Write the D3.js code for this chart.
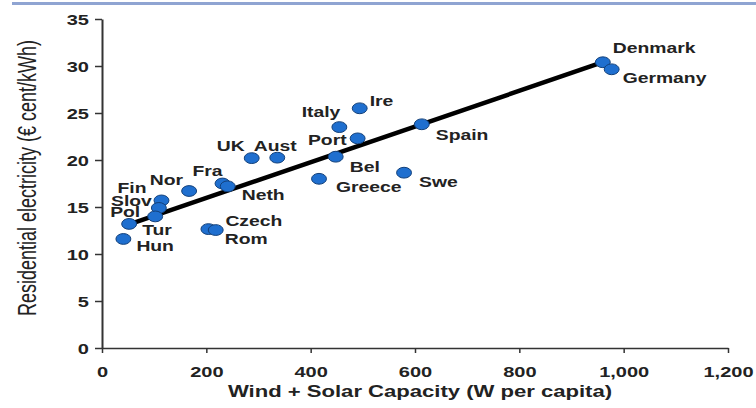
<!DOCTYPE html>
<meta charset="utf-8">
<style>
  body { margin: 0; background: #fff; }
  .axis path, .axis line { stroke: #333; stroke-width: 1.5px; }
  .axis text { font-family: "Liberation Sans", Arial, sans-serif; font-weight: bold; font-size: 14.5px; fill: #222; }
  .label { font-family: "Liberation Sans", Arial, sans-serif; font-weight: bold; font-size: 14px; fill: #222; }
  .dot { fill: #1f6fcf; stroke: #12407a; stroke-width: 1px; }
  .trend { stroke: #000; stroke-width: 4.5px; fill: none; }
</style>
<svg width="756" height="408"></svg>
<script src="https://d3js.org/d3.v7.min.js"></script>
<script>
  // data
  var countries = ["Denmark", "Germany", "Spain", "Ire", "Italy", "Port", "Aust", "UK", "Bel", "Greece",
    "Swe", "Fra", "Neth", "Nor", "Fin", "Slov", "Pol", "Tur", "Hun", "Czech", "Rom"];
  var capacity = [960, 977, 613, 494, 455, 490, 336, 287, 448, 416, 579, 231, 241, 167, 114, 109, 102, 52, 41, 204, 218];
  var price = [30.4, 29.65, 23.8, 25.5, 23.5, 22.3, 20.25, 20.2, 20.35, 18.0, 18.65, 17.5, 17.2, 16.7, 15.7, 14.9, 14.0, 13.2, 11.6, 12.65, 12.55];
  var trendX = [52, 960];
  var trendY = [13.15, 30.4];
  var xTicks = [0, 200, 400, 600, 800, 1000, 1200];
  var yTicks = [0, 5, 10, 15, 20, 25, 30, 35];

  var svg = d3.select("svg");
  var SX = 1.38; // the whole figure is stretched sideways

  var x = d3.scaleLinear().domain([0, 1200]).range([102, 728]);
  var y = d3.scaleLinear().domain([0, 35]).range([348, 19]);

  // top rule
  svg.append("line")
    .attr("x1", 12).attr("x2", 756).attr("y1", 3.5).attr("y2", 3.5)
    .attr("stroke", "#8fa4d2").attr("stroke-width", 3);

  var xAxis = svg.append("g")
    .attr("class", "axis")
    .attr("transform", "translate(0," + y(0) + ")")
    .call(d3.axisBottom(x).tickValues(xTicks).tickFormat(d3.format(",")).tickSize(5).tickSizeOuter(0));
  xAxis.selectAll("text")
    .attr("y", 0).attr("dy", 0)
    .attr("transform", "translate(0,29) scale(" + SX + ",1)");

  var yAxis = svg.append("g")
    .attr("class", "axis")
    .attr("transform", "translate(" + x(0) + ",0)")
    .call(d3.axisLeft(y).tickValues(yTicks).tickSize(7).tickSizeOuter(0));
  yAxis.select(".domain").style("stroke-width", "2px");
  yAxis.selectAll("text")
    .attr("x", 0).attr("dy", "0.36em")
    .attr("transform", "translate(-13,0) scale(" + SX + ",1)");

  // axis titles
  svg.append("text")
    .attr("transform", "translate(420,397) scale(" + SX + ",1)")
    .attr("text-anchor", "middle")
    .style("font-family", "Liberation Sans, Arial, sans-serif")
    .style("font-weight", "bold")
    .style("font-size", "16px")
    .style("fill", "#222")
    .text("Wind + Solar Capacity (W per capita)");

  svg.append("text")
    .attr("transform", "translate(27,178) scale(" + SX + ",1) rotate(-90)")
    .attr("text-anchor", "middle")
    .attr("dy", "0.36em")
    .style("font-family", "Liberation Sans, Arial, sans-serif")
    .style("font-size", "18px")
    .style("fill", "#222")
    .text("Residential electricity (\u20ac cent/kWh)");

  // trend line
  svg.append("line")
    .attr("class", "trend")
    .attr("x1", x(trendX[0])).attr("y1", y(trendY[0]))
    .attr("x2", x(trendX[1])).attr("y2", y(trendY[1]));

  var points = countries.map(function(c, i) { return { name: c, cap: capacity[i], price: price[i] }; });

  svg.append("g").selectAll("ellipse")
    .data(points)
    .enter().append("ellipse")
    .attr("class", "dot")
    .attr("cx", function(d) { return x(d.cap); })
    .attr("cy", function(d) { return y(d.price); })
    .attr("rx", 5.4 * SX)
    .attr("ry", 5.4);

  // label placement: [dx, dy, anchor]
  var place = {
    Denmark: [10, -9, "start"], Germany: [11, 14, "start"], Spain: [14, 16, "start"],
    Ire: [10, -2, "start"], Italy: [1, -10, "end"], Port: [-11, 7, "end"],
    Aust: [-2, -7, "middle"], UK: [-7, -7, "end"], Bel: [14, 15, "start"],
    Greece: [17, 13, "start"], Swe: [15, 14, "start"], Fra: [0, -8, "end"],
    Neth: [14, 14, "start"], Nor: [-6, -6, "end"], Fin: [-15, -7, "end"],
    Slov: [-7, -2, "end"], Pol: [-15, 1, "end"], Tur: [13, 11, "start"],
    Hun: [13, 12, "start"], Czech: [17, -3, "start"], Rom: [9, 14, "start"]
  };

  svg.append("g").selectAll("text")
    .data(points)
    .enter().append("text")
    .attr("class", "label")
    .attr("text-anchor", function(d) { return place[d.name][2]; })
    .attr("transform", function(d) {
      var p = place[d.name];
      return "translate(" + (x(d.cap) + p[0]) + "," + (y(d.price) + p[1]) + ") scale(" + SX + ",1)";
    })
    .text(function(d) { return d.name; });
</script>
